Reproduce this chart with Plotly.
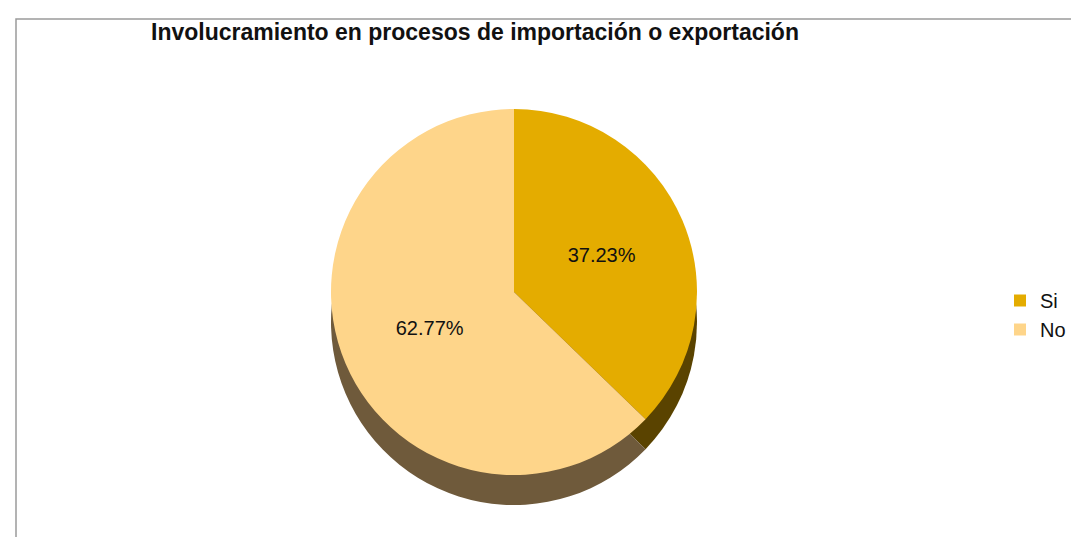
import plotly.graph_objects as go

# chart data
labels = ["Si", "No"]
percentages = [37.23, 62.77]

title_text = "Involucramiento en procesos de importación o exportación"

top_colors = ["#E4AC00", "#FED58A"]
side_colors = ["#5A4300", "#6F5A3B"]

W, H = 1079, 537


def px_domain(left, right, top, bottom):
    return {"x": [left / W, right / W], "y": [1 - bottom / H, 1 - top / H]}


fig = go.Figure()

# darker copy underneath, pushed down a bit, to fake the side of the 3d pie
fig.add_trace(
    go.Pie(
        labels=labels,
        values=percentages,
        sort=False,
        direction="clockwise",
        rotation=0,
        marker={"colors": side_colors, "line": {"width": 0}},
        textinfo="none",
        hoverinfo="skip",
        showlegend=False,
        domain=px_domain(323, 689, 131, 497),
    )
)

fig.add_trace(
    go.Pie(
        labels=labels,
        values=percentages,
        sort=False,
        direction="clockwise",
        rotation=0,
        marker={"colors": top_colors, "line": {"width": 0}},
        texttemplate="%{value:.2f}%",
        textposition="inside",
        insidetextorientation="horizontal",
        textfont={"family": "Liberation Sans, Arial, sans-serif", "size": 20, "color": "#111111"},
        hovertemplate="%{label}: %{value:.2f}%<extra></extra>",
        domain=px_domain(323, 689, 101, 467),
    )
)

fig.update_layout(
    width=W,
    height=H,
    paper_bgcolor="white",
    plot_bgcolor="white",
    margin={"l": 0, "r": 0, "t": 0, "b": 0},
    title={
        "text": f"<b>{title_text}</b>",
        "x": 143 / W,
        "xanchor": "left",
        "y": 1 - 24 / H,
        "yanchor": "middle",
        "font": {"family": "Liberation Sans, Arial, sans-serif", "size": 23, "color": "#111111"},
    },
    legend={
        "x": 992 / W,
        "xanchor": "left",
        "y": 1 - 307 / H,
        "yanchor": "middle",
        "font": {"family": "Liberation Sans, Arial, sans-serif", "size": 20, "color": "#111111"},
        "itemwidth": 30,
        "tracegroupgap": 0,
    },
    shapes=[
        {
            "type": "rect",
            "xref": "paper",
            "yref": "paper",
            "x0": 8 / W,
            "x1": 1.02,
            "y0": -0.02,
            "y1": 1 - 11 / H,
            "line": {"color": "#9A9A9A", "width": 1.5},
            "layer": "below",
        }
    ],
)

fig.write_html("out.html")
